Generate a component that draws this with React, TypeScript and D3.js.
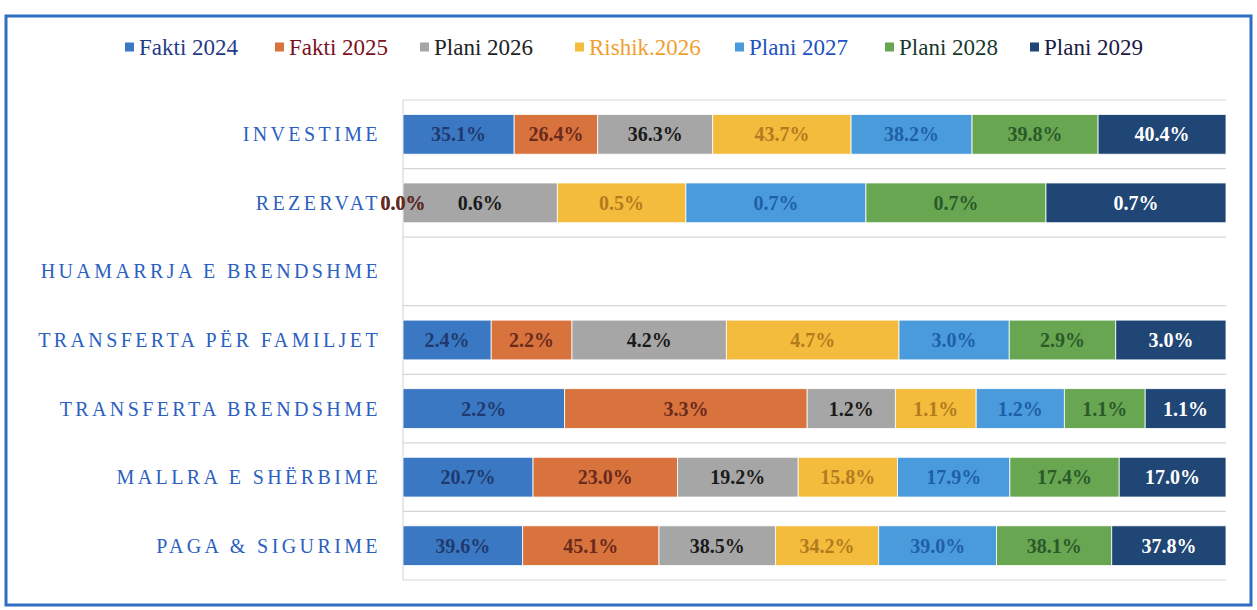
import { useEffect, useRef } from 'react';
import * as d3 from 'd3';

const W = 1257;
const H = 610;

// kategoritë (nga lart poshtë)
const categories = [
  'INVESTIME',
  'REZERVAT',
  'HUAMARRJA E BRENDSHME',
  'TRANSFERTA PËR FAMILJET',
  'TRANSFERTA BRENDSHME',
  'MALLRA E SHËRBIME',
  'PAGA & SIGURIME',
];

const seriesNames = ['Fakti 2024', 'Fakti 2025', 'Plani 2026', 'Rishik.2026', 'Plani 2027', 'Plani 2028', 'Plani 2029'];

const fakti2024 = [35.1, 0.0, 0, 2.4, 2.2, 20.7, 39.6];
const fakti2025 = [26.4, 0.0, 0, 2.2, 3.3, 23.0, 45.1];
const plani2026 = [36.3, 0.6, 0, 4.2, 1.2, 19.2, 38.5];
const rishik2026 = [43.7, 0.5, 0, 4.7, 1.1, 15.8, 34.2];
const plani2027 = [38.2, 0.7, 0, 3.0, 1.2, 17.9, 39.0];
const plani2028 = [39.8, 0.7, 0, 2.9, 1.1, 17.4, 38.1];
const plani2029 = [40.4, 0.7, 0, 3.0, 1.1, 17.0, 37.8];

const seriesValues = [fakti2024, fakti2025, plani2026, rishik2026, plani2027, plani2028, plani2029];

const fillColors = ['#3b78c3', '#d8733e', '#a6a6a6', '#f4bc3c', '#4a9bdc', '#68a652', '#1f4675'];
const labelColors = ['#1f3a6e', '#6b2a1c', '#1a1a1a', '#b37b1f', '#1f5fa8', '#2b5a2a', '#ffffff'];
const legendTextColors = ['#1f3c88', '#7a1222', '#222222', '#f0a030', '#2352c2', '#183a2a', '#1a1a44'];
const legendX = [125, 275, 420, 575, 735, 885, 1030];

const SERIF = '"Liberation Serif", "DejaVu Serif", serif';

export default function App() {
  const svgRef = useRef<SVGSVGElement>(null);

  useEffect(() => {
    if (!svgRef.current) return;
    const svg = d3.select(svgRef.current);
    svg.selectAll('*').remove();

    const plotL = 403;
    const plotR = 1226;
    const plotT = 100;
    const plotB = 580;

    const rows = categories.map((c, i) => {
      const r: Record<string, any> = { category: c };
      seriesNames.forEach((s, k) => (r[s] = seriesValues[k][i]));
      return r;
    });
    const sums = categories.map((_, i) => d3.sum(seriesValues, (v) => v[i]));

    // 100% e grumbulluar
    const stacked = d3.stack<any>().keys(seriesNames).offset(d3.stackOffsetExpand)(rows);

    const x = d3.scaleLinear().domain([0, 1]).range([plotL, plotR]);
    const y = d3.scaleBand().domain(categories).range([plotT, plotB]).paddingInner(0.42).paddingOuter(0.21);

    // kornizë
    svg.append('rect')
      .attr('x', 6).attr('y', 16)
      .attr('width', 1245).attr('height', 589)
      .attr('fill', '#fff')
      .attr('stroke', '#2f6ec0')
      .attr('stroke-width', 3);

    // vijat horizontale
    const step = y.step();
    const gridYs = d3.range(categories.length + 1).map((i) => plotT + i * step);
    svg.append('g').selectAll('line')
      .data(gridYs)
      .enter()
      .append('line')
      .attr('x1', plotL).attr('x2', plotR)
      .attr('y1', (d) => d).attr('y2', (d) => d)
      .attr('stroke', '#d6d6d6')
      .attr('stroke-width', 1.2);

    svg.append('line')
      .attr('x1', plotL).attr('x2', plotL)
      .attr('y1', plotT).attr('y2', plotB)
      .attr('stroke', '#cfcfcf');

    // shiritat
    stacked.forEach((layer, k) => {
      svg.append('g').selectAll('rect')
        .data(layer)
        .enter()
        .append('rect')
        .attr('x', (d) => x(d[0]))
        .attr('y', (_, i) => y(categories[i])!)
        .attr('width', (d) => Math.max(0, x(d[1]) - x(d[0])))
        .attr('height', y.bandwidth())
        .attr('fill', fillColors[k])
        .attr('stroke', '#ffffff')
        .attr('stroke-width', 0.8);
    });

    // etiketat
    stacked.forEach((layer, k) => {
      svg.append('g').selectAll('text')
        .data(layer.map((d, i) => ({ d, i })).filter((o) => sums[o.i] > 0))
        .enter()
        .append('text')
        .attr('x', (o) => x((o.d[0] + o.d[1]) / 2))
        .attr('y', (o) => y(categories[o.i])! + y.bandwidth() / 2)
        .attr('dy', '0.35em')
        .attr('text-anchor', 'middle')
        .attr('font-family', SERIF)
        .attr('font-weight', 'bold')
        .attr('font-size', '20px')
        .attr('fill', labelColors[k])
        .text((o) => `${seriesValues[k][o.i].toFixed(1)}%`);
    });

    // emrat e kategorive
    svg.append('g').selectAll('text')
      .data(categories)
      .enter()
      .append('text')
      .attr('x', 381)
      .attr('y', (d) => y(d)! + y.bandwidth() / 2)
      .attr('dy', '0.35em')
      .attr('text-anchor', 'end')
      .attr('font-family', SERIF)
      .attr('font-size', '20px')
      .attr('letter-spacing', '3.4px')
      .attr('fill', '#2c5fbf')
      .text((d) => d);

    // legjenda
    const leg = svg.append('g').selectAll('g')
      .data(seriesNames)
      .enter()
      .append('g')
      .attr('transform', (_, i) => `translate(${legendX[i]},47)`);
    leg.append('rect')
      .attr('x', 0).attr('y', -4.5)
      .attr('width', 9).attr('height', 9)
      .attr('fill', (_, i) => fillColors[i]);
    leg.append('text')
      .attr('x', 14)
      .attr('dy', '0.35em')
      .attr('font-family', SERIF)
      .attr('font-size', '23px')
      .attr('fill', (_, i) => legendTextColors[i])
      .text((d) => d);
  }, []);

  return (
    <div style={{ position: 'absolute', left: 0, top: 0 }}>
      <svg ref={svgRef} width={W} height={H} style={{ display: 'block' }} />
    </div>
  );
}
